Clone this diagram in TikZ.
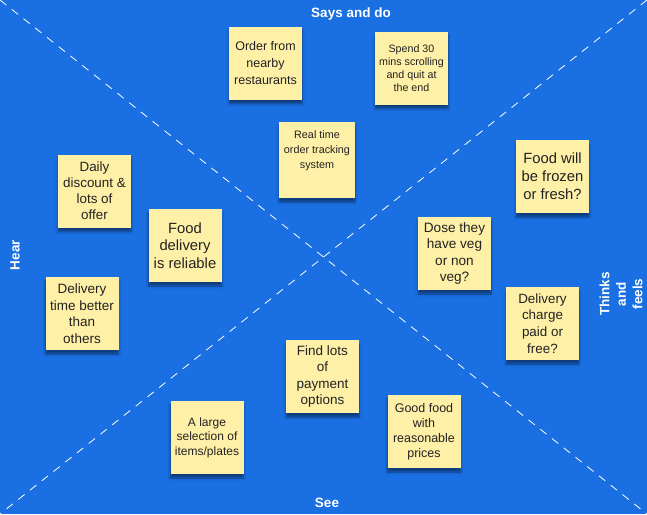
\documentclass[tikz,border=0pt]{standalone}
\usepackage{fontspec}
\setmainfont{Liberation Sans}
\usetikzlibrary{shadows.blur}
\definecolor{bg}{HTML}{1A6FE3}
\definecolor{sticky}{HTML}{FFF0A8}
\definecolor{ink}{HTML}{222222}
\newcommand{\nfont}[2]{\fontsize{#1}{#2}\selectfont}

\begin{document}
\begin{tikzpicture}[x=1pt,y=-1pt,
note/.style={fill=sticky,text=ink,align=center,inner sep=0pt,
    minimum width=73pt,minimum height=73pt,
    blur shadow={shadow xshift=0pt,shadow yshift=-4pt,shadow opacity=45,shadow blur steps=6}},
title/.style={text=white,align=center,font=\bfseries\nfont{13.5}{16.5}},
diag/.style={white,line width=0.8pt,dash pattern=on 8pt off 7pt}]

\coordinate (0) at (0,0);
\coordinate (A) at (647,0);
\coordinate (B) at (647,514);
\coordinate (C) at (0,514);

\fill[bg] (0) rectangle (B);
\useasboundingbox (0) rectangle (B);
\draw[diag] (0) -- (B);
\draw[diag] (A) -- (C);

\node[title] (S) at (351,14) {Says and do};
\node[title] (E) at (327,503) {See};
\node[title,rotate=90] (H) at (15,255) {Hear};
\node[title,rotate=90] (T) at (621,294) {Thinks\\and\\feels};

\node[note,font=\nfont{12.5}{17.3}] (N1) at (265.5,63) {Order from\\nearby\\restaurants};
\node[note,font=\nfont{10.7}{13.2}] (N2) at (411.5,68) {Spend 30\\mins scrolling\\and quit at\\the end};
\node[note,minimum width=76pt,minimum height=76pt,font=\nfont{10.8}{15},text depth=20pt] (N3) at (317,160) {Real time\\order tracking\\system};
\node[note,font=\nfont{13.4}{16}] (N4) at (94.5,191) {Daily\\discount \&\\lots of\\offer};
\node[note,font=\nfont{14.8}{17.7}] (N5) at (185,245.5) {Food\\delivery\\is reliable};
\node[note,font=\nfont{13.5}{16.6}] (N6) at (82,313.5) {Delivery\\time better\\than\\others};
\node[note,font=\nfont{14.8}{17.8}] (N7) at (552.5,176.5) {Food will\\be frozen\\or fresh?};
\node[note,font=\nfont{13.6}{16.2}] (N8) at (454.5,253.5) {Dose they\\have veg\\or non\\veg?};
\node[note,font=\nfont{13.4}{16.7}] (N9) at (542.5,323.5) {Delivery\\charge\\paid or\\free?};
\node[note,font=\nfont{13.5}{16.3}] (N10) at (322.5,376.5) {Find lots\\of\\payment\\options};
\node[note,font=\nfont{12}{14.5}] (N11) at (207,437.5) {A large\\selection of\\items/plates};
\node[note,font=\nfont{12.5}{15.1}] (N12) at (424,431.5) {Good food\\with\\reasonable\\prices};
\end{tikzpicture}
\end{document}
